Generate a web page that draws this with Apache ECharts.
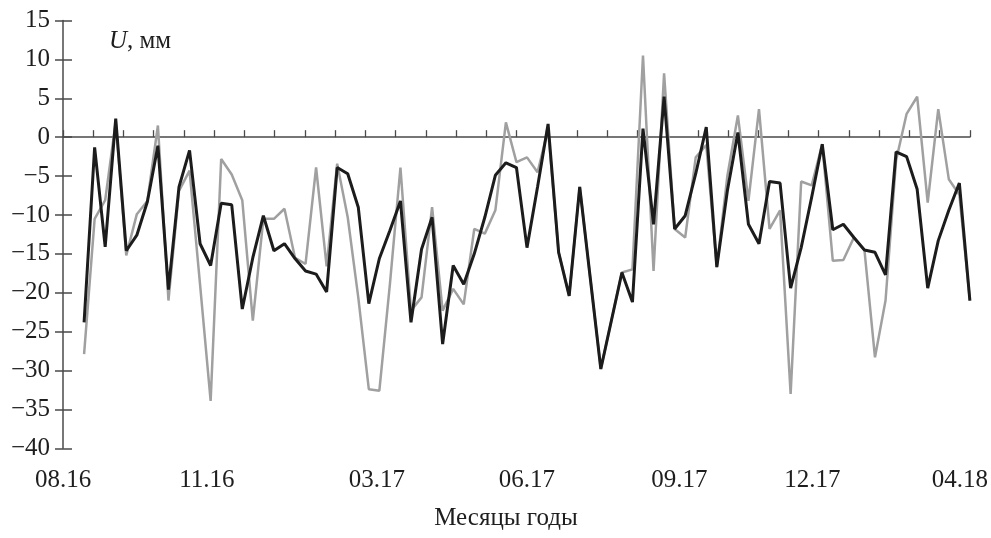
<!DOCTYPE html>
<html>
<head>
<meta charset="utf-8">
<script src="https://cdn.jsdelivr.net/npm/echarts@6/dist/echarts.min.js"></script>
<style>
  html, body { margin: 0; padding: 0; background: #fff; }
  #chart { width: 991px; height: 538px; }
</style>
</head>
<body>
<div id="chart"></div>
<script>
// weekly measurements, index 0 = first week shown
const blackU = [
  -23.8, -1.3, -14.1, 2.4, -14.6, -12.6, -8.3, -1.1, -19.6, -6.4,
  -1.7, -13.7, -16.5, -8.5, -8.7, -22.1, -15.5, -10.1, -14.6, -13.7,
  -15.6, -17.2, -17.6, -19.9, -3.9, -4.7, -9.0, -21.4, -15.6, -12.0,
  -8.2, -23.8, -14.4, -10.3, -26.6, -16.5, -18.9, -15.0, -10.3, -4.9,
  -3.3, -3.9, -14.2, -6.4, 1.7, -14.8, -20.4, -6.4, -18.1, -29.8,
  -23.6, -17.4, -21.2, 1.1, -11.2, 5.2, -11.8, -10.1, -4.7, 1.3,
  -16.7, -6.9, 0.6, -11.2, -13.7, -5.7, -5.9, -19.4, -14.2, -7.7,
  -0.9, -11.9, -11.2, -12.9, -14.5, -14.8, -17.7, -1.9, -2.5, -6.7,
  -19.4, -13.3, -9.4, -5.9, -21.0
];
const grayU = [
  -27.9, -10.5, -8.1, 2.0, -15.2, -9.9, -8.2, 1.5, -21.0, -6.9,
  -4.3, -19.0, -33.9, -2.8, -4.8, -8.1, -23.6, -10.5, -10.5, -9.2,
  -15.5, -16.3, -3.9, -16.6, -3.4, -10.3, -20.6, -32.4, -32.6, -18.9,
  -3.9, -22.3, -20.6, -9.0, -22.3, -19.5, -21.5, -11.8, -12.4, -9.4,
  1.9, -3.2, -2.6, -4.5, 1.0, -14.8, -20.4, -6.4, -18.1, -29.8,
  -23.6, -17.4, -17.0, 10.5, -17.2, 8.2, -11.8, -12.9, -2.6, -1.0,
  -16.7, -5.0, 2.8, -8.2, 3.6, -11.8, -9.4, -33.0, -5.7, -6.2,
  -0.9, -15.9, -15.8, -12.9, -14.5, -28.3, -21.0, -3.0, 3.0, 5.2,
  -8.4, 3.6, -5.4, -7.4, -21.0
];
const monthLabels = ['08.16', '11.16', '03.17', '06.17', '09.17', '12.17', '04.18'];
const monthAt = [-2, 11.65, 27.77, 42.0, 56.45, 69.06, 83.05];

const font = '"Liberation Serif", "DejaVu Serif", serif';
const axisColor = '#4a4a4a';
const textColor = '#1e1e1e';

const chart = echarts.init(document.getElementById('chart'));

chart.setOption({
  animation: false,
  backgroundColor: '#fff',
  title: {
    text: '{i|U}, мм',
    left: 104,
    top: 24,
    textStyle: {
      fontFamily: font,
      fontSize: 25,
      fontWeight: 'normal',
      color: textColor,
      rich: { i: { fontFamily: font, fontSize: 25, fontStyle: 'italic', color: textColor } }
    }
  },
  grid: { left: 63, right: 21, top: 20.5, bottom: 89.7 },
  xAxis: [
    {
      // zero line with small upward ticks
      type: 'value',
      position: 'bottom',
      min: 0,
      max: 30,
      interval: 1,
      axisLine: { onZero: true, lineStyle: { color: axisColor, width: 1.5 } },
      axisTick: { inside: true, length: 7, lineStyle: { color: axisColor, width: 1.3 } },
      axisLabel: { show: false },
      splitLine: { show: false }
    },
    {
      // week index axis carrying data and month labels
      type: 'value',
      position: 'bottom',
      min: -2,
      max: 84,
      axisLine: { show: false, onZero: false },
      axisTick: { show: false },
      splitLine: { show: false },
      axisLabel: {
        customValues: monthAt,
        margin: 20,
        fontFamily: font,
        fontSize: 25,
        color: textColor,
        formatter: (v) => {
          const i = monthAt.findIndex((m) => Math.abs(m - v) < 1e-6);
          return i >= 0 ? monthLabels[i] : '';
        }
      },
      name: 'Месяцы годы',
      nameLocation: 'middle',
      nameGap: 58,
      nameTextStyle: { fontFamily: font, fontSize: 25, color: textColor, padding: [0, 21, 0, 0] }
    }
  ],
  yAxis: [
    {
      type: 'value',
      position: 'left',
      min: -40,
      max: 15,
      interval: 5,
      axisLine: { show: true, onZero: false, lineStyle: { color: axisColor, width: 1.5 } },
      axisTick: { show: true, length: 8, lineStyle: { color: axisColor, width: 1.5 } },
      axisLabel: {
        margin: 13,
        fontFamily: font,
        fontSize: 25,
        color: textColor,
        formatter: (v) => String(v).replace('-', '\u2212')
      },
      splitLine: { show: false }
    },
    {
      type: 'value',
      position: 'left',
      min: -40,
      max: 15,
      interval: 5,
      axisLine: { show: false, onZero: false },
      axisTick: { show: true, inside: true, length: 9, lineStyle: { color: axisColor, width: 1.5 } },
      axisLabel: { show: false },
      splitLine: { show: false }
    }
  ],
  series: [
    {
      type: 'line',
      xAxisIndex: 1,
      yAxisIndex: 0,
      data: grayU.map((v, i) => [i, v]),
      showSymbol: false,
      lineStyle: { color: '#a0a0a0', width: 2.5 },
      z: 2
    },
    {
      type: 'line',
      xAxisIndex: 1,
      yAxisIndex: 0,
      data: blackU.map((v, i) => [i, v]),
      showSymbol: false,
      lineStyle: { color: '#1c1c1c', width: 3 },
      z: 3
    }
  ]
});
</script>
</body>
</html>
